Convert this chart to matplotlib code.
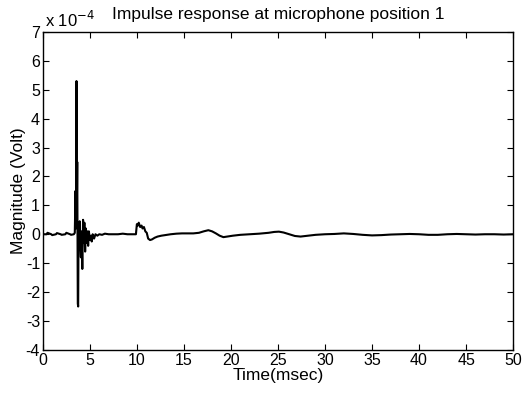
import matplotlib
matplotlib.use("Agg")
import matplotlib.pyplot as plt
from matplotlib.ticker import FuncFormatter, MultipleLocator

plt.rcParams['font.family'] = ['Liberation Sans', 'DejaVu Sans']

# Time (msec) and magnitude (in units of 1e-4 Volt)
time_ms = [0.0, 0.4, 0.5, 0.9, 1.0, 1.4, 1.5, 1.9, 2.0, 2.4, 2.5, 2.9, 3.0, 3.3, 3.4,
           3.48, 3.52, 3.58, 3.62, 3.66, 3.72, 3.76, 3.80, 3.86, 3.92, 3.98, 4.05,
           4.12, 4.20, 4.28, 4.34, 4.42, 4.50, 4.58, 4.66, 4.74, 4.82, 4.90, 5.00,
           5.10, 5.20, 5.30, 5.45, 5.60, 5.80, 6.00, 6.30, 6.60, 7.0, 7.5, 8.0, 8.5,
           9.0, 9.5, 9.9, 10.0, 10.1, 10.2, 10.35, 10.5, 10.6, 10.75, 10.9, 11.05,
           11.2, 11.4, 11.6, 11.9, 12.2, 12.6, 13.0, 13.6, 14.2, 14.8, 15.4, 16.0,
           16.6, 17.1, 17.6, 18.0, 18.4, 18.8, 19.2, 19.6, 20.2, 21.0, 22.0, 23.0,
           24.0, 24.6, 25.1, 25.6, 26.2, 26.8, 27.4, 28.2, 29.0, 30.0, 31.0, 32.0,
           33.0, 34.0, 35.0, 36.0, 37.0, 38.0, 39.0, 40.0, 41.0, 42.0, 43.0, 44.0,
           45.0, 46.0, 47.0, 48.0, 49.0, 50.0]
magnitude = [0.0, 0.0, 0.05, 0.0, -0.03, 0.0, 0.04, 0.0, -0.02, 0.0, 0.05, 0.0, -0.02, 0.0, 0.05,
             1.5, 0.2, 5.3, 1.0, 2.5, -2.4, -2.5, 0.4, -0.2, 0.45, -0.4, -0.8,
             0.1, -1.2, 0.5, -0.3, 0.4, -0.6, 0.2, -0.3, 0.1, -0.4, 0.1, -0.2,
             -0.05, -0.25, 0.0, -0.15, 0.0, -0.05, 0.0, -0.02, 0.02, 0.0, 0.0, 0.0, 0.02,
             0.0, 0.0, 0.0, 0.35, 0.3, 0.4, 0.25, 0.3, 0.2, 0.25, 0.1, 0.05,
             -0.15, -0.2, -0.18, -0.12, -0.08, -0.05, -0.03, 0.0, 0.02, 0.03, 0.03, 0.03,
             0.05, 0.1, 0.14, 0.1, 0.03, -0.05, -0.1, -0.08, -0.05, -0.02, 0.0, 0.02,
             0.05, 0.08, 0.09, 0.06, 0.0, -0.06, -0.08, -0.05, -0.02, 0.0, 0.01, 0.03,
             0.01, -0.02, -0.04, -0.03, -0.01, 0.0, 0.01, 0.0, -0.02, -0.02, 0.0, 0.01,
             0.0, -0.01, 0.0, 0.0, -0.01, 0.0]
scale = 1e-4

fig = plt.figure(figsize=(5.22, 3.94), dpi=100)
ax = fig.add_axes([0.082, 0.112, 0.901, 0.807])
ax.plot(time_ms, [m * scale for m in magnitude], color='black', lw=1.5)

ax.set_xlim(0, 50)
ax.set_ylim(-4e-4, 7e-4)
ax.xaxis.set_major_locator(MultipleLocator(5))
ax.yaxis.set_major_locator(MultipleLocator(1e-4))
ax.yaxis.set_major_formatter(FuncFormatter(lambda v, p: f"{round(v / scale):d}"))
ax.tick_params(direction='in', top=True, right=True, labelsize=11.5, length=4, width=0.8, pad=2)
for s in ax.spines.values():
    s.set_linewidth(1.0)

ax.set_xlabel('Time(msec)', fontsize=12.5, labelpad=0)
ax.set_ylabel('Magnitude (Volt)', fontsize=12.5, labelpad=0)
ax.set_title('Impulse response at microphone position 1', fontsize=12.5, pad=9)
ax.text(0.005, 1.005, r'x 10$^{-4}$', transform=ax.transAxes, fontsize=12,
        ha='left', va='bottom')

fig.savefig('out.png', dpi=100)
